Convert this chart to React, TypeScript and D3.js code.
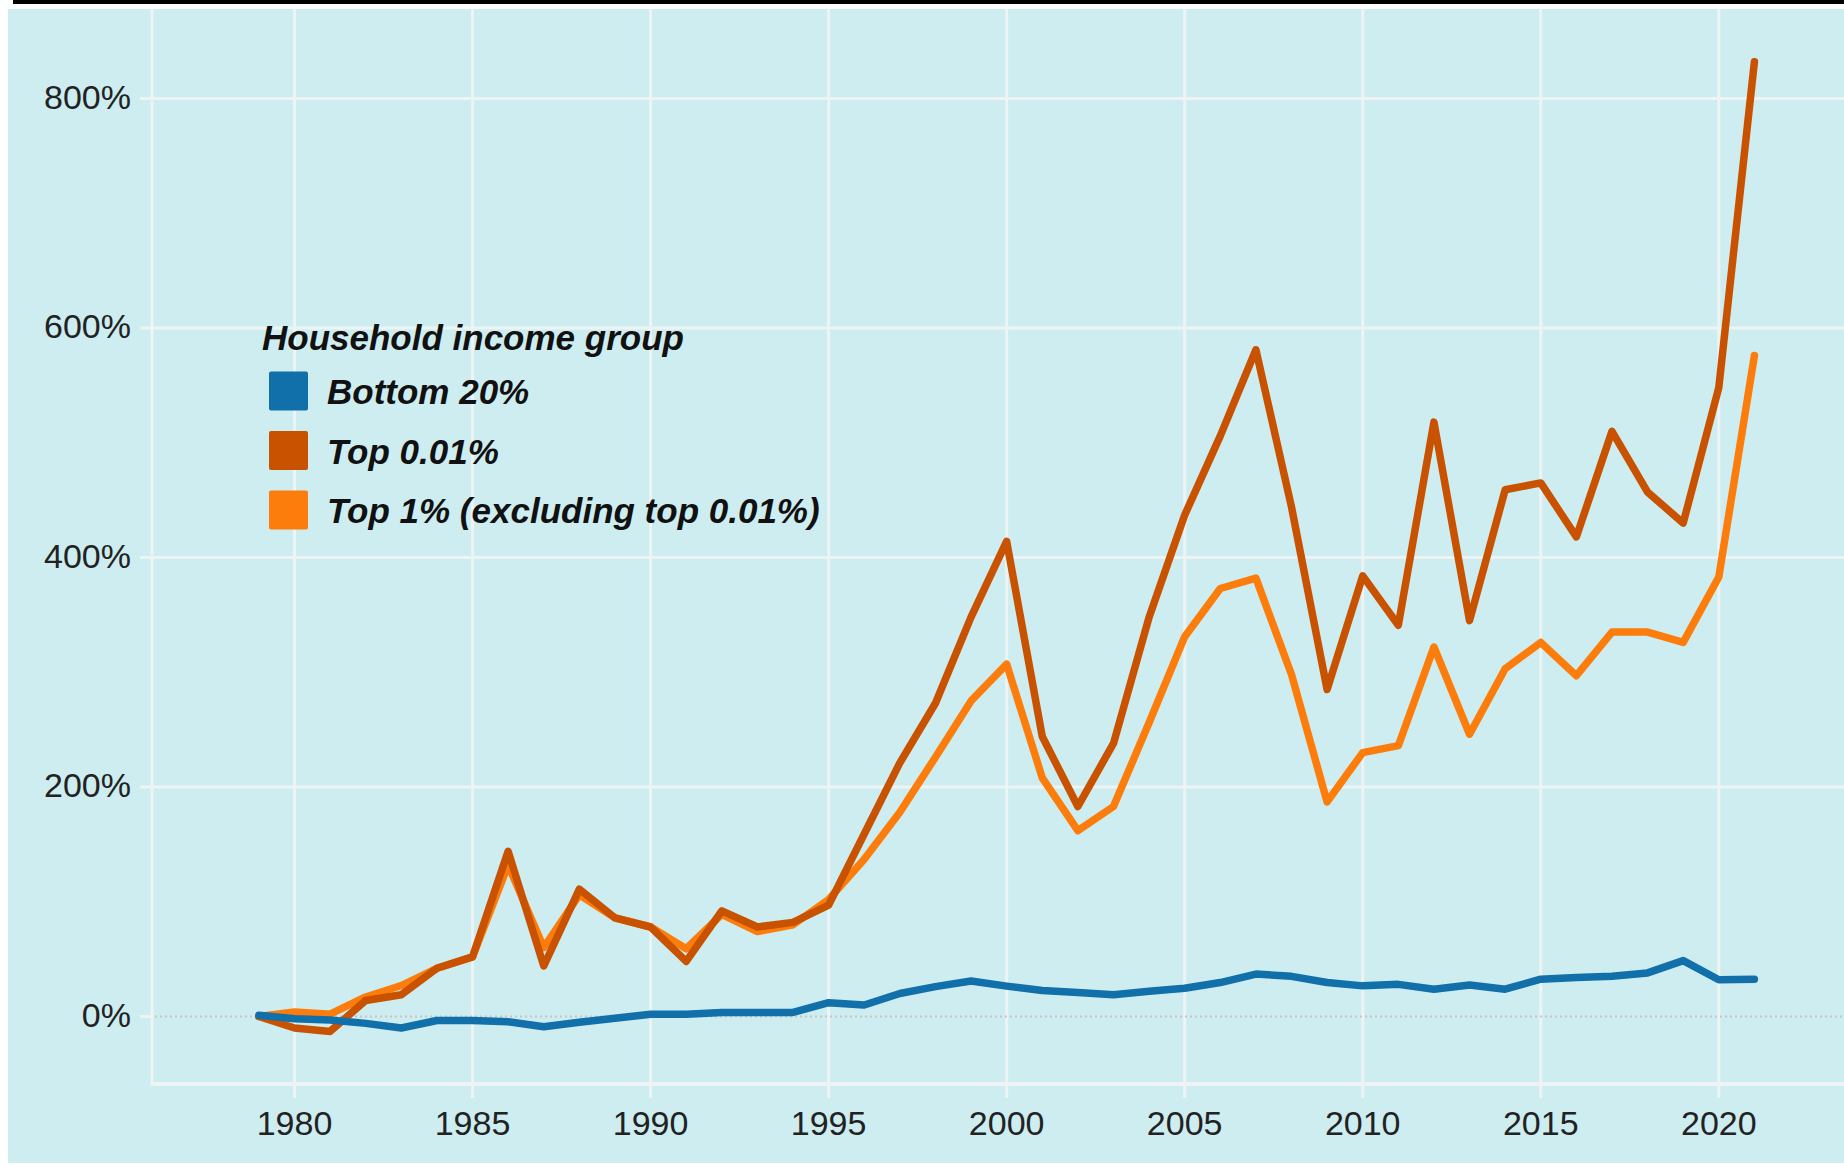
import React from "react";
import * as d3 from "d3";

const years = [
  1979, 1980, 1981, 1982, 1983, 1984, 1985, 1986, 1987, 1988, 1989, 1990, 1991, 1992, 1993,
  1994, 1995, 1996, 1997, 1998, 1999, 2000, 2001, 2002, 2003, 2004, 2005, 2006, 2007, 2008,
  2009, 2010, 2011, 2012, 2013, 2014, 2015, 2016, 2017, 2018, 2019, 2020, 2021,
];

const bottom20 = [
  1, -2, -3, -6, -10, -3.5, -3.5, -4.5, -9, -5, -1.5, 2, 2, 3.5, 3.5, 3.5, 12, 10, 20, 26, 31, 26.5,
  22.6, 21, 19, 22, 24.6, 29.6, 37, 35, 29.6, 26.7, 28, 23.8, 27.5, 23.8, 32.5, 34, 35, 38, 48.7, 32, 32.5,
];

const top001 = [
  0, -10, -13, 14, 19, 42, 52, 144, 44, 111, 86, 78, 48, 92, 78, 82, 97, 159, 221, 273, 348, 414,
  244, 183, 238, 348, 437, 506, 581, 444, 285, 384, 341, 518, 345, 459, 465, 418, 510, 457, 430, 548, 832,
];

const top1 = [
  0, 4, 2, 17, 27, 42, 52, 132, 60, 106, 86, 78, 59, 89, 74, 80, 102, 137, 178, 226, 275, 307,
  208, 162, 183, 256, 331, 373, 382, 298, 187, 230, 236, 322, 246, 303, 326, 297, 335, 335, 326, 383, 576,
];

const seriesNames = ["Bottom 20%", "Top 0.01%", "Top 1% (excluding top 0.01%)"];
const seriesColors = ["#1170aa", "#c85200", "#fc7d0b"];
const seriesValues = [bottom20, top001, top1];

const xTicks = [1980, 1985, 1990, 1995, 2000, 2005, 2010, 2015, 2020];
const yTicks = [0, 200, 400, 600, 800];
const legendTitle = "Household income group";

const W = 1844;
const H = 1166;
const FONT = "'Liberation Sans', Arial, Helvetica, sans-serif";

export default function App() {
  const x = d3.scaleLinear().domain([1980, 2020]).range([294.5, 1718.8]);
  const y = d3.scaleLinear().domain([0, 800]).range([1016.5, 98.5]);
  const axisX = 152;
  const axisY = 1084;
  const panelTop = 9;
  const gridColor = "#eef3f4";

  const line = d3
    .line<number>()
    .x((_, i) => x(years[i]))
    .y((d) => y(d));

  const drawOrder = [2, 1, 0];

  return (
    <svg
      width={W}
      height={H}
      style={{ position: "absolute", left: 0, top: 0, display: "block" }}
      xmlns="http://www.w3.org/2000/svg"
    >
      <rect x={0} y={0} width={W} height={H} fill="#ffffff" />
      <rect x={13} y={0} width={W - 13} height={4} fill="#000000" />
      <rect x={8} y={panelTop} width={W - 8} height={1163 - panelTop} fill="#cdedf0" />

      {xTicks.map((t) => (
        <line
          key={"vx" + t}
          x1={x(t)}
          x2={x(t)}
          y1={panelTop}
          y2={1098}
          stroke={gridColor}
          strokeWidth={3}
        />
      ))}
      {yTicks.map((t) =>
        t === 0 ? (
          <g key={"hy" + t}>
            <line x1={140} x2={axisX} y1={y(t)} y2={y(t)} stroke={gridColor} strokeWidth={3} />
            <line
              x1={axisX + 3}
              x2={W}
              y1={y(t)}
              y2={y(t)}
              stroke="#c9c3c3"
              strokeWidth={2}
              strokeDasharray="2,3"
            />
          </g>
        ) : (
          <line key={"hy" + t} x1={140} x2={W} y1={y(t)} y2={y(t)} stroke={gridColor} strokeWidth={3} />
        )
      )}
      <line x1={axisX} x2={axisX} y1={panelTop} y2={axisY + 2} stroke={gridColor} strokeWidth={3} />
      <line x1={axisX} x2={W} y1={axisY} y2={axisY} stroke={gridColor} strokeWidth={4} />

      {yTicks.map((t) => (
        <text
          key={"yl" + t}
          x={131}
          y={y(t) + 10}
          textAnchor="end"
          fontFamily={FONT}
          fontSize={34}
          fill="#222"
        >
          {t + "%"}
        </text>
      ))}
      {xTicks.map((t) => (
        <text
          key={"xl" + t}
          x={x(t)}
          y={1135}
          textAnchor="middle"
          fontFamily={FONT}
          fontSize={34}
          fill="#222"
        >
          {t}
        </text>
      ))}

      {drawOrder.map((i) => (
        <path
          key={"s" + i}
          d={line(seriesValues[i]) || ""}
          fill="none"
          stroke={seriesColors[i]}
          strokeWidth={7.5}
          strokeLinejoin="round"
          strokeLinecap="round"
        />
      ))}

      <text
        x={262}
        y={350}
        fontFamily={FONT}
        fontSize={35}
        fontWeight="bold"
        fontStyle="italic"
        fill="#111"
      >
        {legendTitle}
      </text>
      {seriesNames.map((name, i) => {
        const cy = 391 + i * 59.5;
        return (
          <g key={"lg" + i}>
            <rect x={269} y={cy - 19.5} width={39} height={39} rx={2} fill={seriesColors[i]} />
            <text
              x={327}
              y={cy + 13}
              fontFamily={FONT}
              fontSize={35}
              fontWeight="bold"
              fontStyle="italic"
              fill="#111"
            >
              {name}
            </text>
          </g>
        );
      })}
    </svg>
  );
}
